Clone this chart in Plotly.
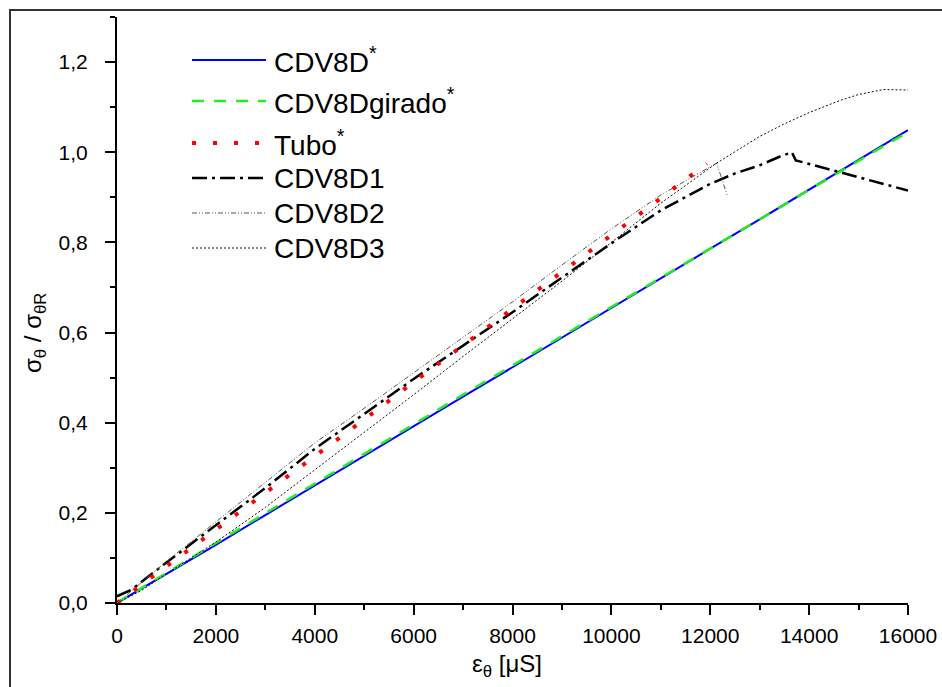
import plotly.graph_objects as go

# ---------------- data ----------------
x_cdv8d = [0, 1000, 2000, 3000, 4000, 5000, 6000, 7000, 8000, 9000, 10000, 11000, 12000, 13000, 14000, 15000, 16000]
y_cdv8d = [0, 0.064, 0.129, 0.195, 0.261, 0.326, 0.392, 0.458, 0.523, 0.589, 0.654, 0.720, 0.786, 0.851, 0.917, 0.983, 1.049]

x_girado = [0, 1000, 2000, 3000, 4000, 5000, 6000, 7000, 8000, 9000, 10000, 11000, 12000, 13000, 14000, 15000, 16000]
y_girado = [0, 0.067, 0.133, 0.199, 0.265, 0.331, 0.396, 0.462, 0.527, 0.592, 0.657, 0.722, 0.787, 0.852, 0.916, 0.981, 1.045]

x_tubo = [0, 1000, 2000, 3000, 4000, 5000, 6000, 7000, 8000, 9000, 10000, 11000, 11930]
y_tubo = [0, 0.081, 0.163, 0.244, 0.326, 0.407, 0.490, 0.571, 0.653, 0.735, 0.816, 0.898, 0.975]

x_d1 = [0, 300, 1000, 2000, 3000, 4000, 5000, 6000, 7000, 8000, 9000, 10000, 11000, 12000, 12500, 13000, 13400, 13650, 13730, 14000, 15000, 16000]
y_d1 = [0.015, 0.030, 0.090, 0.172, 0.255, 0.342, 0.420, 0.497, 0.571, 0.645, 0.722, 0.798, 0.871, 0.930, 0.953, 0.971, 0.990, 1.000, 0.982, 0.974, 0.944, 0.915]

x_d2 = [0, 1000, 2000, 3000, 4000, 5000, 6000, 7000, 8000, 9000, 10000, 11000, 12130, 12340]
y_d2 = [0, 0.092, 0.180, 0.268, 0.355, 0.432, 0.510, 0.588, 0.668, 0.750, 0.830, 0.905, 0.976, 0.905]

x_d3 = [0, 500, 1000, 2000, 3000, 4000, 5000, 6000, 7000, 8000, 9000, 10000, 11000, 12130, 12540, 13000, 13480, 14000, 14630, 15000, 15500, 16000]
y_d3 = [0, 0.028, 0.065, 0.135, 0.212, 0.295, 0.378, 0.462, 0.547, 0.630, 0.714, 0.800, 0.887, 0.976, 1.004, 1.035, 1.062, 1.088, 1.115, 1.128, 1.139, 1.138]

names = ["CDV8D<sup>*</sup>", "CDV8Dgirado<sup>*</sup>", "Tubo<sup>*</sup>", "CDV8D1", "CDV8D2", "CDV8D3"]
colors = ["#0000ff", "#22ee22", "#ff0000", "#000000", "#555555", "#111111"]
dashes = ["solid", "12px,10px", "4px,17px", "15px,5px,3px,5px", "5px,2px,1px,2px,1px,2px", "2px,2px"]
widths = [2, 2.5, 4, 2.5, 1, 1]

series_x = [x_cdv8d, x_girado, x_tubo, x_d1, x_d2, x_d3]
series_y = [y_cdv8d, y_girado, y_tubo, y_d1, y_d2, y_d3]

x_tickvals = [0, 2000, 4000, 6000, 8000, 10000, 12000, 14000, 16000]
y_tickvals = [0.0, 0.2, 0.4, 0.6, 0.8, 1.0, 1.2]

# ---------------- layout geometry ----------------
W, H = 942, 687
ML, MR, MT, MB = 117, 34, 17, 84
PW, PH = W - ML - MR, H - MT - MB


def px_x(px):
    return (px - ML) / PW


def px_y(py):
    return (H - MB - py) / PH


fig = go.Figure()
draw_order = [0, 1, 3, 4, 5, 2]
for i in draw_order:
    fig.add_trace(go.Scatter(
        x=series_x[i], y=series_y[i], mode="lines", name=names[i],
        line=dict(color=colors[i], dash=dashes[i], width=widths[i]),
        showlegend=False, hoverinfo="skip"))

font = "Liberation Sans, Arial, sans-serif"

# manual legend (long line samples as in the original)
legend_rows = [60, 101, 143, 178, 213, 248]
shapes = []
annotations = []
for i, yy in enumerate(legend_rows):
    shapes.append(dict(type="line", xref="paper", yref="paper",
                       x0=px_x(192), x1=px_x(266), y0=px_y(yy), y1=px_y(yy),
                       line=dict(color=colors[i], dash=dashes[i], width=widths[i])))
    annotations.append(dict(xref="paper", yref="paper", x=px_x(272), y=px_y(yy),
                            xanchor="left", yanchor="middle", showarrow=False,
                            text=names[i], font=dict(family=font, size=28, color="black")))

# outer frame
shapes.append(dict(type="rect", xref="paper", yref="paper",
                   x0=px_x(10), x1=px_x(960), y0=px_y(700), y1=px_y(10),
                   line=dict(color="#333333", width=2), fillcolor="rgba(0,0,0,0)", layer="below"))

# axis titles
annotations.append(dict(xref="paper", yref="paper", x=px_x(34), y=px_y(333),
                        xanchor="center", yanchor="middle", showarrow=False, textangle=-90,
                        text="σ<sub>θ</sub> / σ<sub>θR</sub>",
                        font=dict(family=font, size=24, color="black")))
annotations.append(dict(xref="paper", yref="paper", x=px_x(507), y=px_y(665),
                        xanchor="center", yanchor="middle", showarrow=False,
                        text="ε<sub>θ</sub> [μS]",
                        font=dict(family=font, size=24, color="black")))

axis_common = dict(showline=True, linecolor="black", linewidth=2, ticks="outside",
                   ticklen=10, tickwidth=2, tickcolor="black", showgrid=False, zeroline=False,
                   tickfont=dict(family=font, size=21, color="black"), mirror=False,
                   automargin=False)

fig.update_layout(
    width=W, height=H, margin=dict(l=ML, r=MR, t=MT, b=MB, autoexpand=False),
    paper_bgcolor="white", plot_bgcolor="white",
    separators=",.",
    shapes=shapes, annotations=annotations,
    xaxis=dict(range=[0, 16000], tickvals=x_tickvals, tickformat="d", ticklabelstandoff=3,
               minor=dict(dtick=1000, ticks="outside", ticklen=5, tickwidth=2, tickcolor="black"),
               **axis_common),
    yaxis=dict(range=[0, 1.3], tickvals=y_tickvals, tickformat=".1f", ticklabelstandoff=13,
               ticksuffix="\u2004",
               minor=dict(dtick=0.1, ticks="outside", ticklen=5, tickwidth=2, tickcolor="black"),
               **axis_common),
)

fig.write_html("out.html")
